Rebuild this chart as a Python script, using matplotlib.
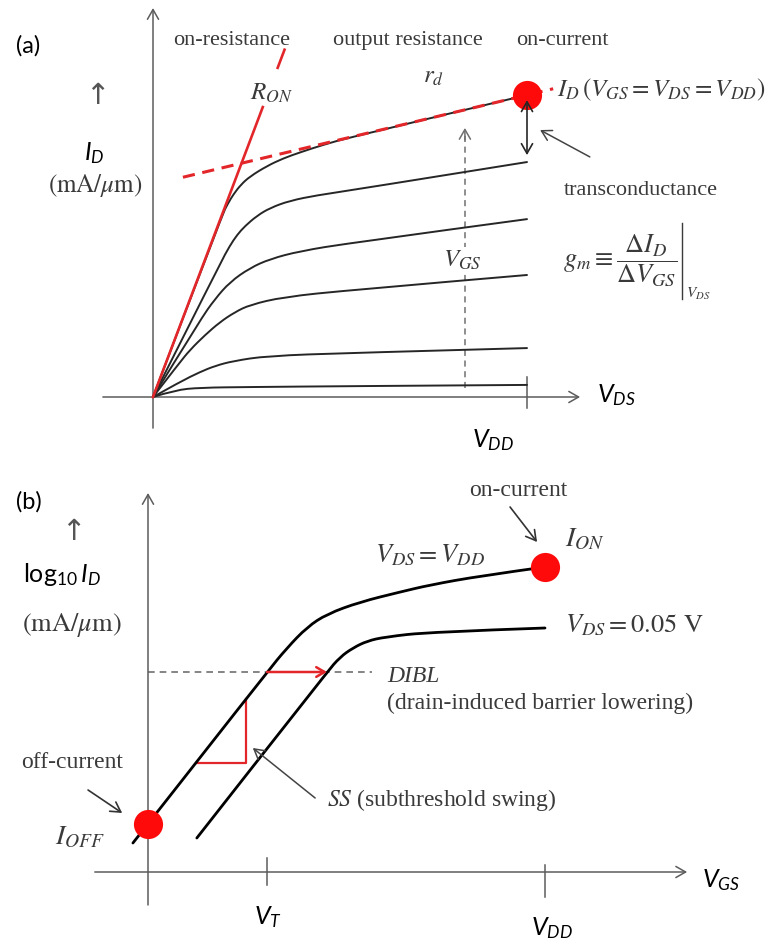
import matplotlib.pyplot as plt
import numpy as np
from matplotlib.path import Path
from matplotlib.patches import PathPatch

plt.rcParams['mathtext.fontset'] = 'custom'
plt.rcParams['mathtext.rm'] = 'Lato'
plt.rcParams['mathtext.it'] = 'Lato:italic'
plt.rcParams['mathtext.bf'] = 'Lato:bold'

SERIF = 'Liberation Serif'
INK = '#262626'
GREY = '#5c5c5c'
TXT = '#3a3a3a'
RED = '#e3262a'

# (a) output characteristics: V_DS in units of V_DD, I_D in units of the on-current
vds_1 = [0, 0.185, 0.200, 0.215, 0.235, 0.259, 0.305, 0.348, 0.393, 0.455, 0.527, 1.0]
id_1 = [0, 0.603, 0.640, 0.671, 0.703, 0.730, 0.765, 0.790, 0.810, 0.835, 0.860, 1.0]
vds_2 = [0, 0.180, 0.205, 0.225, 0.246, 0.278, 0.313, 0.366, 0.439, 0.527, 1.0]
id_2 = [0, 0.443, 0.500, 0.537, 0.566, 0.600, 0.626, 0.650, 0.668, 0.684, 0.778]
vds_3 = [0, 0.126, 0.166, 0.206, 0.259, 0.313, 0.393, 0.527, 1.0]
id_3 = [0, 0.255, 0.325, 0.381, 0.427, 0.457, 0.483, 0.510, 0.589]
vds_4 = [0, 0.070, 0.099, 0.139, 0.179, 0.219, 0.259, 0.348, 0.527, 1.0]
id_4 = [0, 0.112, 0.156, 0.205, 0.248, 0.281, 0.305, 0.331, 0.354, 0.404]
vds_5 = [0, 0.072, 0.126, 0.166, 0.214, 0.305, 0.527, 1.0]
id_5 = [0, 0.050, 0.083, 0.103, 0.119, 0.136, 0.146, 0.162]
vds_6 = [0, 0.059, 0.126, 0.259, 0.527, 1.0]
id_6 = [0, 0.023, 0.031, 0.033, 0.036, 0.040]
output_curves = [(vds_1, id_1), (vds_2, id_2), (vds_3, id_3),
                 (vds_4, id_4), (vds_5, id_5), (vds_6, id_6)]

r_on_slope = 3.27          # linear-region slope dI/dV
r_on_solid_top = 0.96
r_on_dash = [1.09, 1.15]
rd_intercept = 0.704       # saturation tangent of the top curve
rd_slope = 0.296
rd_span = [0.08, 1.07]
vdd_a = 1.0
vgs_arrow_v = 0.834
vgs_arrow_i = [0.03, 0.891]
gm_arrow_i = [0.983, 0.801]

# (b) transfer characteristics: V_GS in units of V_DD, log10 I_D in decades above the axis
vgs_hi = [-0.038, 0.300, 0.350, 0.401, 0.451, 0.534, 0.635, 0.710, 0.836, 1.0]
logid_hi = [0.29, 2.00, 2.24, 2.45, 2.58, 2.70, 2.80, 2.87, 2.96, 3.05]
vgs_lo = [0.123, 0.451, 0.484, 0.516, 0.552, 0.597, 0.710, 1.0]
logid_lo = [0.34, 2.00, 2.15, 2.24, 2.31, 2.35, 2.40, 2.44]
v_t = 0.30
vdd_b = 1.0
i_off = 0.48
i_on = 3.05
dibl_level = 2.0
dibl_dash_end = 0.564
ss_v = 0.247
ss_low = 1.09


def smooth_curve(ax, x, y, **kw):
    # quadratic B-spline through the sampled points (points act as control vertices)
    pts = np.column_stack([x, y])
    verts = [pts[0]]
    codes = [Path.MOVETO]
    for k in range(1, len(pts) - 1):
        end = (pts[k] + pts[k + 1]) / 2 if k < len(pts) - 2 else pts[k + 1]
        verts += [pts[k], end]
        codes += [Path.CURVE3, Path.CURVE3]
    ax.add_patch(PathPatch(Path(verts, codes), fill=False, capstyle='round',
                           joinstyle='round', **kw))


def arrow(ax, tail, tip, color=GREY, lw=1.1, style='->,head_length=0.7,head_width=0.4', z=3):
    ax.annotate('', xy=tip, xytext=tail,
                arrowprops=dict(arrowstyle=style, color=color, lw=lw,
                                shrinkA=0, shrinkB=0), zorder=z)


def serif(ax, x, y, s, size=16, ha='center', **kw):
    ax.text(x, y, s, fontsize=size, family=SERIF, color=TXT, math_fontfamily='stix',
            ha=ha, va='center', **kw)


def sans(ax, x, y, s, size=18, ha='center', **kw):
    ax.text(x, y, s, fontsize=size, family='Lato', color='black', math_fontfamily='custom',
            ha=ha, va='center', **kw)


fig = plt.figure(figsize=(7.66, 9.43), dpi=100)
ax_a = fig.add_axes([0, 483 / 943, 1, 460 / 943])
ax_b = fig.add_axes([0, 0, 1, 483 / 943])
ax_a.set_xlim(-153 / 374, 613 / 374)
ax_a.set_ylim(-63 / 302, 397 / 302)
ax_b.set_xlim(-148 / 397, 618 / 397)
ax_b.set_ylim(-0.71, 4.12)
for ax in (ax_a, ax_b):
    ax.set_axis_off()

# ---------------- panel (a) ----------------
arrow(ax_a, (-0.134, 0), (1.142, 0))
arrow(ax_a, (0, -0.103), (0, 1.288))
ax_a.plot([vdd_a, vdd_a], [-0.036, 0.066], color=GREY, lw=1.1)

for v, i in output_curves:
    smooth_curve(ax_a, v, i, edgecolor=INK, lw=1.4, zorder=3)

ax_a.plot([0, r_on_solid_top / r_on_slope], [0, r_on_solid_top], color=RED, lw=1.9, zorder=4)
ax_a.plot(np.array(r_on_dash) / r_on_slope, r_on_dash, color=RED, lw=1.9, zorder=4)
rd_v = np.array(rd_span)
ax_a.plot(rd_v, rd_intercept + rd_slope * rd_v, color=RED, lw=2.2,
          dashes=(4, 2.5), zorder=4)
ax_a.plot([vdd_a], [id_1[-1]], 'o', color='#ff0a0a', ms=21, mec='none', zorder=5)

ax_a.plot([vgs_arrow_v] * 2, [vgs_arrow_i[0], vgs_arrow_i[1] - 0.02], color='#707070',
          lw=1.1, dashes=(4, 3), zorder=2)
arrow(ax_a, (vgs_arrow_v, vgs_arrow_i[1] - 0.04), (vgs_arrow_v, vgs_arrow_i[1]),
      color='#707070', lw=1.1)
arrow(ax_a, (vdd_a, gm_arrow_i[0]), (vdd_a, gm_arrow_i[1]), color=INK, lw=1.2,
      style='<->,head_length=0.7,head_width=0.4', z=6)
arrow(ax_a, (1.168, 0.795), (1.035, 0.884), color='#444444', lw=1.1)

sans(ax_a, -0.334, 1.162, '(a)', size=17)
serif(ax_a, 0.211, 1.182, 'on-resistance')
serif(ax_a, 0.682, 1.182, 'output resistance')
serif(ax_a, 1.094, 1.182, 'on-current')
serif(ax_a, 0.316, 1.007, r'$R_{ON}$', size=18)
serif(ax_a, 0.749, 1.060, r'$r_d$', size=18)
serif(ax_a, 1.080, 1.017, r'$I_D\,(V_{GS} = V_{DS} = V_{DD})$', size=18, ha='left')
serif(ax_a, 1.305, 0.685, 'transconductance')
serif(ax_a, 1.248, 0.449, r'$g_m \equiv \dfrac{\Delta I_D}{\Delta V_{GS}}$', size=19)
ax_a.plot([1.414, 1.414], [0.325, 0.575], color=TXT, lw=1.0)
serif(ax_a, 1.457, 0.340, r'$V_{DS}$', size=11)
serif(ax_a, 0.826, 0.454, r'$V_{GS}$', size=18,
      bbox=dict(facecolor='white', edgecolor='none', pad=1))
ax_a.text(-0.150, 0.997, '\u2191', fontsize=21, family='DejaVu Sans', color='#555555',
          ha='center', va='center')
sans(ax_a, -0.158, 0.808, r'$I_D$', size=18)
serif(ax_a, -0.155, 0.699, r'$(\mathrm{mA}/\mu\mathrm{m})$', size=18)
sans(ax_a, 1.187, 0.007, r'$V_{DS}$', size=18, ha='left')
sans(ax_a, 0.909, -0.142, r'$V_{DD}$', size=18)

# ---------------- panel (b) ----------------
arrow(ax_b, (-0.134, 0), (1.358, 0))
arrow(ax_b, (0, -0.33), (0, 3.79))
ax_b.plot([v_t, v_t], [-0.13, 0.14], color=GREY, lw=1.1)
ax_b.plot([vdd_b, vdd_b], [-0.25, 0.07], color=GREY, lw=1.1)

smooth_curve(ax_b, vgs_hi, logid_hi, edgecolor='black', lw=2.0, zorder=3)
smooth_curve(ax_b, vgs_lo, logid_lo, edgecolor='black', lw=2.0, zorder=3)

ax_b.plot([0, dibl_dash_end], [dibl_level] * 2, color='#707070', lw=1.2,
          dashes=(4, 3), zorder=2)
dibl_from = np.interp(dibl_level, logid_hi, vgs_hi)
dibl_to = np.interp(dibl_level, logid_lo, vgs_lo)
arrow(ax_b, (dibl_from, dibl_level), (dibl_to, dibl_level), color=RED, lw=1.8,
      style='->,head_length=0.6,head_width=0.35', z=4)

ss_left = np.interp(ss_low, logid_hi, vgs_hi)
ss_top = np.interp(ss_v, vgs_hi, logid_hi)
ax_b.plot([ss_left, ss_v, ss_v], [ss_low, ss_low, ss_top], color=RED, lw=1.6, zorder=2)

ax_b.plot([0], [i_off], 'o', color='#ff0a0a', ms=21, mec='none', zorder=5)
ax_b.plot([vdd_b], [i_on], 'o', color='#ff0a0a', ms=21, mec='none', zorder=5)

arrow(ax_b, (0.912, 3.65), (0.980, 3.30), color='#333333', lw=1.2)
arrow(ax_b, (-0.151, 0.82), (-0.065, 0.59), color='#333333', lw=1.2)
arrow(ax_b, (0.421, 0.74), (0.264, 1.24), color='#444444', lw=1.1)

sans(ax_b, -0.300, 3.70, '(b)', size=17)
ax_b.text(-0.189, 3.40, '\u2191', fontsize=21, family='DejaVu Sans', color='#555555',
          ha='center', va='center')
sans(ax_b, -0.217, 2.97, r'$\mathrm{log}_{10}\,I_D$', size=18)
serif(ax_b, -0.191, 2.47, r'$(\mathrm{mA}/\mu\mathrm{m})$', size=19)
serif(ax_b, 0.932, 3.82, 'on-current', size=17)
serif(ax_b, 1.101, 3.32, r'$I_{ON}$', size=20)
serif(ax_b, 0.710, 3.17, r'$V_{DS} = V_{DD}$', size=19)
serif(ax_b, 1.050, 2.47, r'$V_{DS} = 0.05\ \mathrm{V}$', size=19, ha='left')
serif(ax_b, 0.602, 1.95, 'DIBL', size=17, ha='left', style='italic')
serif(ax_b, 0.602, 1.69, '(drain-induced barrier lowering)', size=17, ha='left')
serif(ax_b, 0.451, 0.72, r'$SS$ (subthreshold swing)', size=17, ha='left')
serif(ax_b, -0.191, 1.10, 'off-current', size=17)
serif(ax_b, -0.171, 0.34, r'$I_{OFF}$', size=20)
sans(ax_b, 0.302, -0.45, r'$V_T$', size=18)
sans(ax_b, 1.018, -0.56, r'$V_{DD}$', size=18)
sans(ax_b, 1.395, -0.08, r'$V_{GS}$', size=18, ha='left')

fig.savefig('out.png', dpi=100)
